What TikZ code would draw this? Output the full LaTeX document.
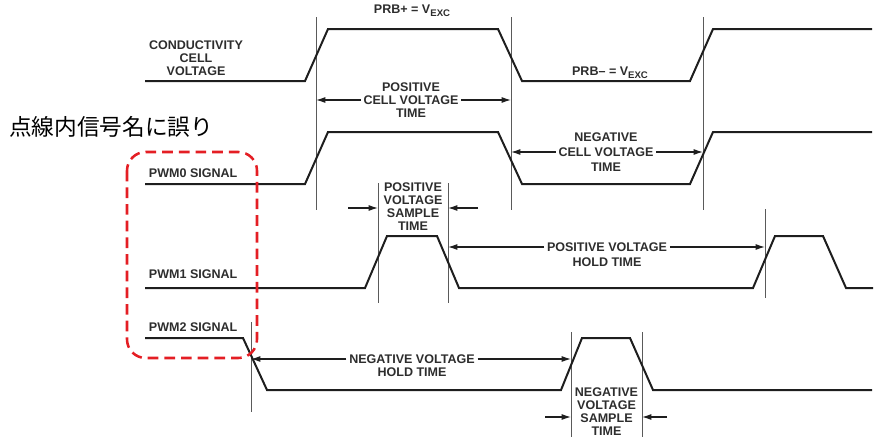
\documentclass[tikz,border=0pt]{standalone}
\usepackage{fontspec}
\setmainfont{Liberation Sans}
\newfontfamily\jpfont{Noto Sans CJK JP}
\usetikzlibrary{arrows.meta,positioning,calc}

\definecolor{wavecol}{RGB}{30,30,30}
\definecolor{tickcol}{RGB}{90,90,90}
\definecolor{txtcol}{RGB}{45,45,45}
\definecolor{notered}{RGB}{228,30,36}

\tikzset{
  wave/.style={line width=1.5pt, draw=wavecol, line join=miter},
  tickline/.style={line width=0.6pt, draw=tickcol},
  dimarrow/.style={line width=0.9pt, draw=wavecol, -{Latex[length=7pt,width=4.5pt]}},
  lbl/.style={font=\fontsize{9.4}{9.7}\selectfont\bfseries, text=txtcol, inner sep=0pt, inner xsep=2pt, align=center},
  sub/.style={font=\fontsize{7.2}{8}\selectfont\bfseries}
}
\newcommand{\vexc}{V\raisebox{-0.45ex}{\fontsize{7.2}{8}\selectfont EXC}}

\begin{document}
\begin{tikzpicture}[x=0.75pt,y=0.75pt,yscale=-1,xscale=1]
	\useasboundingbox (0,0) rectangle (880,443);
	
	%Vertical marks
	\coordinate (t1a) at (316,17);  \coordinate (t1b) at (316,210);
	\coordinate (t2a) at (511,17);  \coordinate (t2b) at (511,210);
	\coordinate (t3a) at (703,17);  \coordinate (t3b) at (703,210);
	\coordinate (t4a) at (378,183); \coordinate (t4b) at (378,303);
	\coordinate (t5a) at (448,183); \coordinate (t5b) at (448,303);
	\coordinate (t6a) at (765,209); \coordinate (t6b) at (765,298);
	\coordinate (t7a) at (251,322); \coordinate (t7b) at (251,412);
	\coordinate (t8a) at (571,332); \coordinate (t8b) at (571,437);
	\coordinate (t9a) at (642,332); \coordinate (t9b) at (642,437);
	\foreach \t in {t1,t2,t3,t4,t5,t6,t7,t8,t9}
		\draw [tickline] (\t a) -- (\t b);
	
	%Conductivity cell voltage
	\draw [wave] (145,81) -- (305,81) -- (328,29) -- (498,29) -- (522,81) -- (690,81) -- (713,29) -- (872,29);
	%PWM0
	\draw [wave] (145,184) -- (305,184) -- (328,132) -- (498,132) -- (522,184) -- (690,184) -- (713,132) -- (872,132);
	%PWM1
	\draw [wave] (145,288) -- (365,288) -- (387,236) -- (437,236) -- (459,288) -- (753,288) -- (775,236) -- (823,236) -- (846,288) -- (873,288);
	%PWM2
	\draw [wave] (145,338) -- (243,338) -- (267,390) -- (561,390) -- (582,338) -- (630,338) -- (653,390) -- (872,390);
	
	% Signal names
	\node [lbl] (cond) at (196,58.5) {CONDUCTIVITY\\CELL\\VOLTAGE};
	\node [lbl, anchor=west] (pwm0) at (146,173) {PWM0 SIGNAL};
	\node [lbl, anchor=west] (pwm1) at (146,274) {PWM1 SIGNAL};
	\node [lbl, anchor=west] (pwm2) at (146,327) {PWM2 SIGNAL};
	\node [lbl] (prbp) at (412,11) {PRB+ = \vexc};
	\node [lbl] (prbm) at (610,73) {PRB\textendash{} = \vexc};
	
	% Positive / negative cell voltage time
	\node [lbl] (poscell) at (411,100) {POSITIVE\\CELL VOLTAGE\\TIME};
	\draw [dimarrow] (poscell.west) -- (poscell.west -| t1a);
	\draw [dimarrow] (poscell.east) -- (poscell.east -| t2a);
	\node [lbl, font=\fontsize{9.4}{11.2}\selectfont\bfseries] (negcell) at (606,152) {NEGATIVE\\CELL VOLTAGE\\TIME};
	\draw [dimarrow] (negcell.west) -- (negcell.west -| t2a);
	\draw [dimarrow] (negcell.east) -- (negcell.east -| t3a);
	
	% Positive voltage sample / hold
	\node [lbl, inner xsep=0pt] (possamp) at (413,207) {POSITIVE\\VOLTAGE\\SAMPLE\\TIME};
	\coordinate (psl) at (348,208);
	\coordinate (psr) at (478,208);
	\draw [dimarrow] (psl) -- (psl -| t4a);
	\draw [dimarrow] (psr) -- (psr -| t5a);
	\node [lbl] (poshold) at (607,247) {POSITIVE VOLTAGE};
	\node [lbl, below=4pt of poshold] (posholdb) {HOLD TIME};
	\draw [dimarrow] (poshold.west) -- (poshold.west -| t5a);
	\draw [dimarrow] (poshold.east) -- (poshold.east -| t6a);
	
	% Negative voltage hold / sample
	\node [lbl] (neghold) at (412,359) {NEGATIVE VOLTAGE};
	\node [lbl, below=3.2pt of neghold] (negholdb) {HOLD TIME};
	\draw [dimarrow] (neghold.west) -- (neghold.west -| t7a);
	\draw [dimarrow] (neghold.east) -- (neghold.east -| t8a);
	\node [lbl, inner xsep=0pt] (negsamp) at (606.5,412) {NEGATIVE\\VOLTAGE\\SAMPLE\\TIME};
	\coordinate (nsl) at (545,417);
	\coordinate (nsr) at (667,417);
	\draw [dimarrow] (nsl) -- (nsl -| t8a);
	\draw [dimarrow] (nsr) -- (nsr -| t9a);
	
	% Note and dashed frame
	\node [anchor=west, inner sep=0pt, font=\jpfont\fontsize{17}{18}\selectfont] (note) at (9,127) {点線内信号名に誤り};
	\draw [notered, line width=1.9pt, dash pattern=on 8pt off 4.5pt, rounded corners=14pt] (127,152) rectangle (257,358);
	
\end{tikzpicture}
\end{document}
